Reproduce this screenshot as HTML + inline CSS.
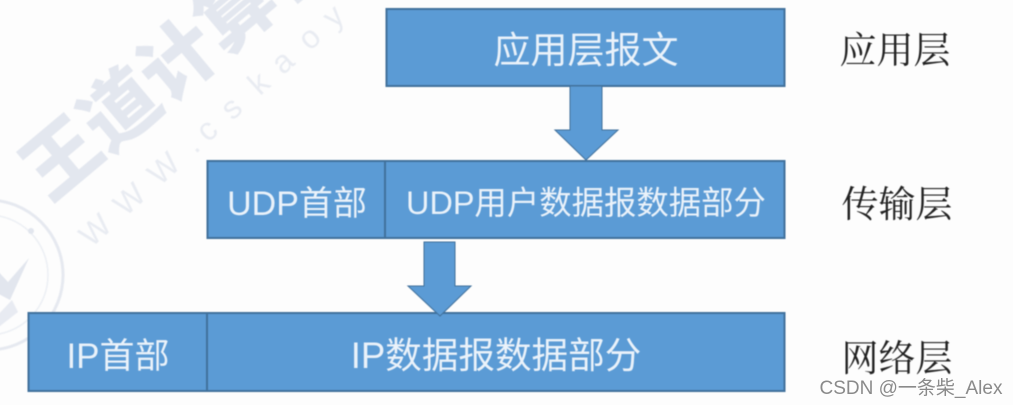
<!DOCTYPE html>
<html><head><meta charset="utf-8"><style>
html,body{margin:0;padding:0;background:#fff}
#c{position:relative;width:1013px;height:405px;overflow:hidden;background:#fdfdfd;font-family:"Liberation Sans","Noto Sans CJK SC",sans-serif}
svg{position:absolute;left:0;top:0}
text{font-family:"Liberation Sans","Noto Sans CJK SC",sans-serif}
.b{fill:#5b9bd5;stroke:#41719c;stroke-width:2}
.t{fill:#eaf2fa;text-anchor:middle}
.l{fill:#222;text-anchor:middle;font-size:37px;font-family:"Noto Serif CJK SC","Liberation Serif",serif}
</style></head><body><div id="c">
<svg width="1013" height="405" viewBox="0 0 1013 405">
<g style="filter:blur(0.5px)">
<g transform="translate(178,60) rotate(-40)">
<text x="0" y="27" font-size="76" font-weight="900" fill="#e3e7ef" text-anchor="middle" style="font-family:'Noto Sans CJK SC',sans-serif">王道计算机</text>
</g>
<g transform="translate(95,230) rotate(-42)">
<text x="-15 31 77 125 142 175 212 243 279 312" y="11" font-size="32" fill="#e9ecf2">WWW.cskaoy</text>
</g>
<circle cx="-12" cy="275" r="75" fill="none" stroke="#e6e9f0" stroke-width="3"/>
<circle cx="-12" cy="275" r="60" fill="none" stroke="#eceff4" stroke-width="1.500"/>
<path d="M-5 292 L10 300 L29 258 L8 282 L-5 268 Z" fill="#e2e6ee"/>
<path d="M-5 318 L12 300 L18 312 L-5 330 Z" fill="#e8ebf2"/>
<circle cx="31" cy="231" r="3" fill="#e2e6ee"/>

<rect class="b" x="386.500" y="9" width="398" height="77"/>
<rect class="b" x="207.500" y="161" width="177.500" height="77"/>
<rect class="b" x="385" y="161" width="399.500" height="77"/>
<rect class="b" x="28.500" y="313" width="178.500" height="78"/>
<rect class="b" x="207" y="313" width="577.500" height="78"/>

<polygon class="b" style="stroke-width:1" points="570,86 602,86 602,130 618,130 586,160 555,130 570,130"/>
<polygon class="b" style="stroke-width:1" points="424,242 455,242 455,286 471,286 440,316 408,286 424,286"/>

<text class="t" x="586" y="63" style="font-size:37px">应用层报文</text>
<text class="t" x="297" y="215" style="font-size:34px">UDP首部</text>
<text class="t" x="586" y="214" style="font-size:32.400px">UDP用户数据报数据部分</text>
<text class="t" x="118" y="368" style="font-size:35px">IP首部</text>
<text class="t" x="496" y="368" style="font-size:36.600px">IP数据报数据部分</text>

<text class="l" x="895" y="63">应用层</text>
<text class="l" x="897" y="217">传输层</text>
<text class="l" x="897" y="371">网络层</text>
</g>
<text x="911" y="394" font-size="19" fill="#8a8a8a" text-anchor="middle">CSDN @一条柴_Alex</text>
</svg>
</div></body></html>
